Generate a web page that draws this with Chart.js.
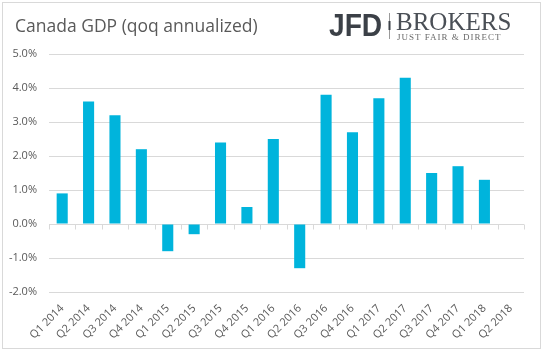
<!DOCTYPE html>
<html>
<head>
<meta charset="utf-8">
<script src="https://cdn.jsdelivr.net/npm/chart.js@4.4.1/dist/chart.umd.min.js"></script>
<style>
  html, body { margin: 0; padding: 0; background: #fff; }
  #frame { position: absolute; left: 2px; top: 2px; width: 539px; height: 347px; border: 1px solid #d9d9d9; box-sizing: border-box; }
  #wrap { position: absolute; left: 0; top: 0; width: 543px; height: 351px; }
</style>
</head>
<body>
<div id="frame"></div>
<div id="wrap"><canvas id="gdpChart" width="543" height="351"></canvas></div>
<script>
// Canada GDP, quarter on quarter annualized (%)
const quarters = [
    'Q1 2014', 'Q2 2014', 'Q3 2014', 'Q4 2014',
    'Q1 2015', 'Q2 2015', 'Q3 2015', 'Q4 2015',
    'Q1 2016', 'Q2 2016', 'Q3 2016', 'Q4 2016',
    'Q1 2017', 'Q2 2017', 'Q3 2017', 'Q4 2017',
    'Q1 2018', 'Q2 2018'
];
const gdpGrowth = [
    0.9, 3.6, 3.2, 2.2,
    -0.8, -0.3, 2.4, 0.5,
    2.5, -1.3, 3.8, 2.7,
    3.7, 4.3, 1.5, 1.7,
    1.3, null
];
const yMin = -2;
const yMax = 5;

const chartTitle = 'Canada GDP (qoq annualized)';
const logoMain = 'JFD';
const logoBrand = 'BROKERS';
const logoTagline = 'JUST FAIR & DIRECT';

const textGrey = '#595959';
const gridGrey = '#d9d9d9';

// small tick marks on the zero line, between categories
const zeroTicks = {
    id: 'zeroTicks',
    afterDatasetsDraw(chart) {
        const x = chart.scales.x, y = chart.scales.y;
        const ctx = chart.ctx;
        const y0 = Math.round(y.getPixelForValue(0)) + 0.5;
        const step = x.getPixelForValue(1) - x.getPixelForValue(0);
        ctx.save();
        ctx.strokeStyle = gridGrey;
        ctx.lineWidth = 1;
        ctx.beginPath();
        for (let i = 0; i <= quarters.length; i++) {
            const px = Math.round(x.getPixelForValue(i) - step / 2) + 0.5;
            ctx.moveTo(px, y0);
            ctx.lineTo(px, y0 + 5);
        }
        ctx.stroke();
        ctx.restore();
    }
};

// title and logo text
const headerText = {
    id: 'headerText',
    afterDraw(chart) {
        const ctx = chart.ctx;
        ctx.save();
        ctx.textBaseline = 'alphabetic';
        ctx.textAlign = 'left';

        ctx.fillStyle = textGrey;
        ctx.font = '17.5px "Open Sans"';
        ctx.fillText(chartTitle, 15, 32);

        // JFD
        ctx.save();
        ctx.fillStyle = '#3b4047';
        ctx.font = 'bold 32px "Liberation Sans"';
        ctx.translate(329, 36);
        ctx.scale(0.88, 1);
        ctx.fillText(logoMain, 0, 0);
        ctx.restore();

        // separator
        ctx.fillStyle = '#9a9a9a';
        ctx.fillRect(389, 13, 1, 26);
        ctx.fillStyle = '#3b4047';
        ctx.fillRect(388.5, 21, 2, 9);

        ctx.fillStyle = '#4a4f56';
        ctx.font = '25px "Liberation Serif"';
        ctx.fillText(logoBrand, 396, 30);

        ctx.fillStyle = '#6a6a6a';
        ctx.font = '9px "Liberation Serif"';
        if ('letterSpacing' in ctx) ctx.letterSpacing = '1px';
        ctx.fillText(logoTagline, 397, 40);
        ctx.restore();
    }
};

new Chart(document.getElementById('gdpChart').getContext('2d'), {
    type: 'bar',
    data: {
        labels: quarters,
        datasets: [{
            label: 'Canada GDP',
            data: gdpGrowth,
            backgroundColor: '#00b4dc',
            borderWidth: 0,
            categoryPercentage: 1.0,
            barPercentage: 0.42
        }]
    },
    options: {
        responsive: false,
        animation: false,
        layout: {
            padding: { left: 0, right: 19, top: 54, bottom: 9 }
        },
        plugins: {
            legend: { display: false },
            tooltip: { enabled: false },
            title: { display: false }
        },
        scales: {
            x: {
                grid: { display: false },
                border: { display: false },
                ticks: {
                    autoSkip: false,
                    minRotation: 45,
                    maxRotation: 45,
                    padding: 2,
                    color: textGrey,
                    font: { family: '"Open Sans"', size: 11 }
                },
                afterFit(scale) { scale.height = 50; }
            },
            y: {
                min: yMin,
                max: yMax,
                grid: { color: gridGrey, lineWidth: 1, drawTicks: false },
                border: { display: false },
                ticks: {
                    stepSize: 1,
                    padding: 12,
                    color: textGrey,
                    font: { family: '"Open Sans"', size: 11 },
                    callback: (v) => v.toFixed(1) + '%'
                },
                afterFit(scale) { scale.width = 49; }
            }
        }
    },
    plugins: [zeroTicks, headerText]
});
</script>
</body>
</html>
